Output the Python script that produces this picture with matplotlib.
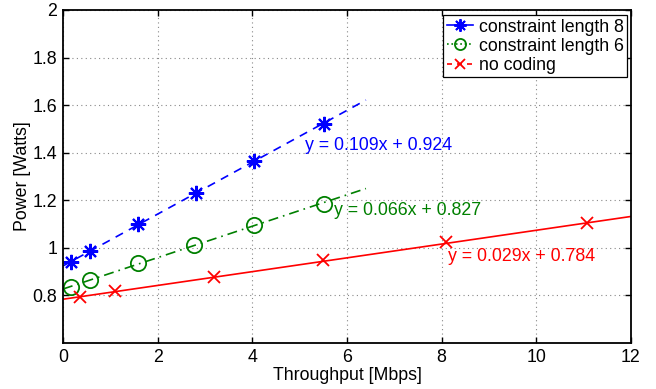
import matplotlib
matplotlib.use("Agg")
import matplotlib.pyplot as plt
from matplotlib.lines import Line2D
import numpy as np

plt.rcParams['font.family'] = ['Liberation Sans', 'DejaVu Sans']

# measured data
x_cl8 = [0.16, 0.57, 1.58, 2.82, 4.03, 5.51]
y_cl8 = [0.942, 0.987, 1.101, 1.229, 1.367, 1.522]
x_cl6 = [0.16, 0.57, 1.59, 2.76, 4.03, 5.51]
y_cl6 = [0.837, 0.864, 0.936, 1.013, 1.097, 1.185]
x_nc = [0.36, 1.10, 3.20, 5.50, 8.10, 11.07]
y_nc = [0.792, 0.818, 0.879, 0.949, 1.026, 1.103]

# linear fits (slope, intercept) and fit ranges
fit_cl8 = [0.109, 0.924]
fit_cl6 = [0.066, 0.827]
fit_nc = [0.029, 0.784]
fit_range_coded = [0, 6.4]
fit_range_nc = [0, 12]

labels = ['constraint length 8', 'constraint length 6', 'no coding']
xticks = [0, 2, 4, 6, 8, 10, 12]
yticks = [0.8, 1.0, 1.2, 1.4, 1.6, 1.8, 2.0]
ytick_labels = ['0.8', '1', '1.2', '1.4', '1.6', '1.8', '2']

fig = plt.figure(figsize=(6.56, 3.89), dpi=100)
ax = fig.add_axes([63/656, 1-343/389, (631-63)/656, (343-10)/389])

fs = 12.8
blue, green, red = '#0000ff', '#008000', '#ff0000'
ast = (8, 2, 0)

def fit_line(fit, rng):
    xs = np.array(rng, dtype=float)
    return xs, fit[0]*xs + fit[1]

xs, ys = fit_line(fit_cl8, fit_range_coded)
ax.plot(xs, ys, color=blue, ls=(0, (5, 4)), lw=1.2)
xs, ys = fit_line(fit_cl6, fit_range_coded)
ax.plot(xs, ys, color=green, ls=(0, (6, 3, 1, 3)), lw=1.2)
xs, ys = fit_line(fit_nc, fit_range_nc)
ax.plot(xs, ys, color=red, ls='-', lw=1.2)

ax.plot(x_cl8, y_cl8, ls='none', marker=ast, ms=11, mec=blue, mew=1.5)
ax.plot(x_cl6, y_cl6, ls='none', marker='o', ms=11, mfc='none', mec=green, mew=1.3)
ax.plot(x_nc, y_nc, ls='none', marker='x', ms=8, mec=red, mew=1.3)

ax.text(5.11, 1.43, 'y = %.3fx + %.3f' % tuple(fit_cl8), color=blue, fontsize=fs, va='center')
ax.text(5.72, 1.157, 'y = %.3fx + %.3f' % tuple(fit_cl6), color=green, fontsize=fs, va='center')
ax.text(8.14, 0.964, 'y = %.3fx + %.3f' % tuple(fit_nc), color=red, fontsize=fs, va='center')

ax.set_xlim(0, 12)
ax.set_ylim(0.6, 2.0)
ax.set_xticks(xticks)
ax.set_yticks(yticks)
ax.set_yticklabels(ytick_labels)
ax.tick_params(direction='in', top=True, right=True, labelsize=fs, length=4, width=1, pad=4)
ax.grid(True, ls=(0, (1, 3)), color='#888888', lw=0.8)
for s in ax.spines.values():
    s.set_linewidth(1.3)
ax.set_xlabel('Throughput [Mbps]', fontsize=fs, labelpad=1)
ax.set_ylabel('Power [Watts]', fontsize=fs, labelpad=1)

handles = [
    Line2D([], [], color=blue, ls='-', marker=ast, ms=9, mew=1.4, lw=1.2),
    Line2D([], [], color=green, ls=':', marker='o', mfc='none', ms=8, mew=1.3, lw=1.2),
    Line2D([], [], color=red, ls=(0, (3, 3)), marker='x', ms=7, mew=1.3, lw=1.2),
]
leg = ax.legend(handles, labels, loc='upper right', bbox_to_anchor=(1.0 - 4/568, 1.0 - 5/333),
                fontsize=fs, fancybox=False, framealpha=1, edgecolor='black',
                handlelength=1.5, handletextpad=0.3, borderpad=0.2, labelspacing=0.12,
                borderaxespad=0)
leg.get_frame().set_linewidth(0.9)

fig.savefig('out.png', dpi=100)
